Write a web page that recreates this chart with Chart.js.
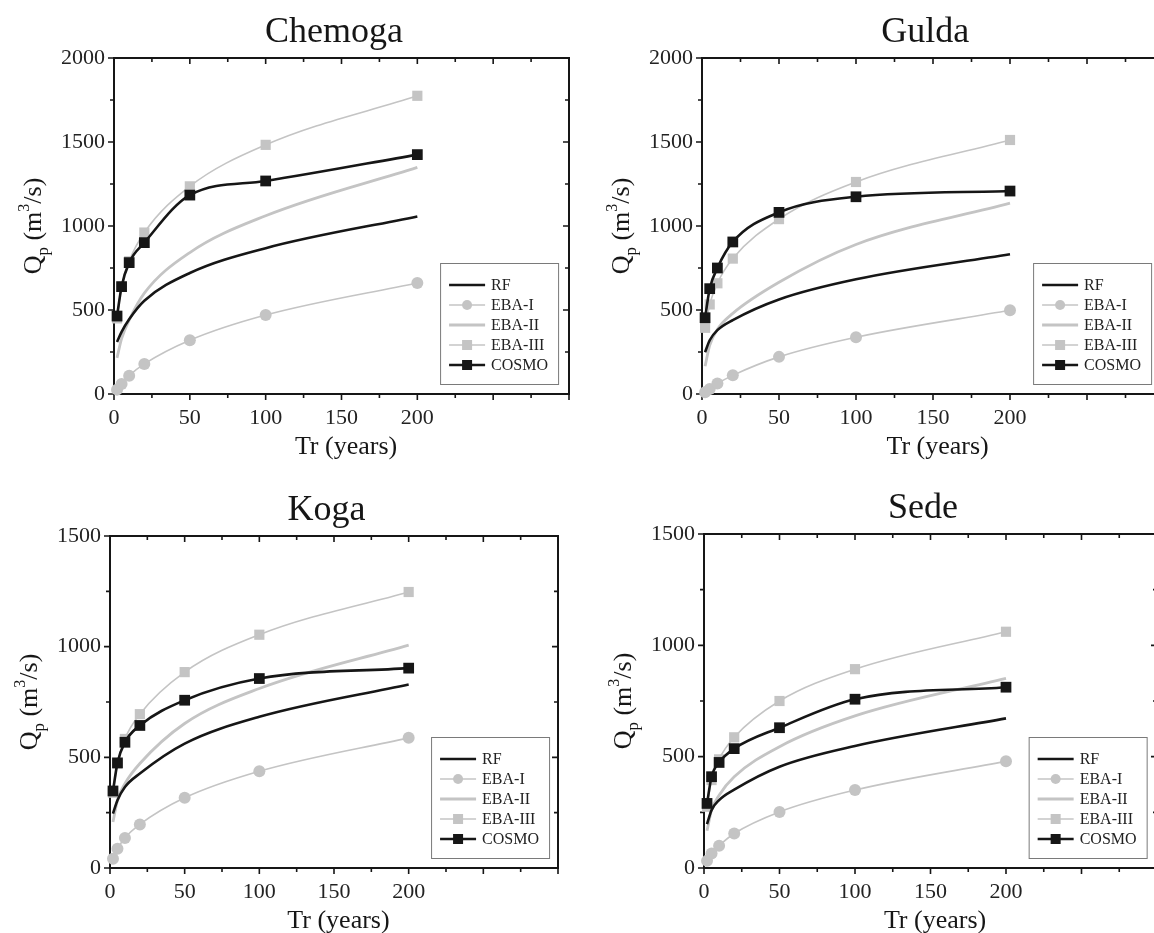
<!DOCTYPE html>
<html>
<head>
<meta charset="utf-8">
<script src="https://cdn.jsdelivr.net/npm/chart.js@4.4.0/dist/chart.umd.min.js"></script>
<style>
  html, body { margin: 0; padding: 0; background: #fff; }
  #lienzo { position: relative; width: 1154px; height: 933px; overflow: hidden; background: #fff; }
  canvas { position: absolute; }
</style>
</head>
<body>
<div id="lienzo">
  <canvas id="chemoga" width="577" height="466" style="left:0;top:0"></canvas>
  <canvas id="gulda" width="610" height="466" style="left:577px;top:0"></canvas>
  <canvas id="koga" width="577" height="467" style="left:0;top:466px"></canvas>
  <canvas id="sede" width="590" height="467" style="left:577px;top:466px"></canvas>
</div>
<script>
// Return periods (years)
const returnPeriods = [2, 5, 10, 20, 50, 100, 200];
const seriesNames = ['RF', 'EBA-I', 'EBA-II', 'EBA-III', 'COSMO'];
const xTicks = [0, 50, 100, 150, 200];

// Qp (m3/s)
const chemogaRF     = [310, 370, 445, 555, 720, 868, 1057];
const chemogaEBA1   = [26, 60, 109, 179, 320, 470, 661];
const chemogaEBA2   = [215, 330, 440, 600, 842, 1061, 1349];
const chemogaEBA3   = [450, 640, 790, 961, 1236, 1483, 1775];
const chemogaCOSMO  = [464, 639, 782, 901, 1184, 1268, 1425];

const guldaRF       = [249, 320, 380, 440, 563, 683, 832];
const guldaEBA1     = [10, 30, 62, 111, 221, 338, 498];
const guldaEBA2     = [165, 290, 385, 480, 665, 890, 1136];
const guldaEBA3     = [394, 533, 659, 806, 1041, 1262, 1512];
const guldaCOSMO    = [454, 627, 750, 905, 1081, 1174, 1208];

const kogaRF        = [246, 306, 366, 427, 562, 683, 829];
const kogaEBA1      = [42, 87, 136, 197, 317, 437, 588];
const kogaEBA2      = [208, 306, 381, 472, 653, 811, 1007];
const kogaEBA3      = [340, 470, 583, 695, 885, 1054, 1247];
const kogaCOSMO     = [348, 475, 568, 644, 758, 856, 903];

const sedeRF        = [197, 260, 305, 352, 455, 548, 672];
const sedeEBA1      = [32, 65, 100, 155, 252, 350, 479];
const sedeEBA2      = [167, 260, 327, 410, 545, 683, 852];
const sedeEBA3      = [275, 395, 488, 587, 750, 893, 1061];
const sedeCOSMO     = [290, 410, 474, 536, 630, 758, 812];

const FUENTE = "'Liberation Serif', 'Times New Roman', serif";
const NEGRO = '#161616';
const GRIS = '#c4c4c4';

const estilos = [
  { color: NEGRO, width: 2.6, point: false, radius: 0, order: 2 },
  { color: GRIS, width: 1.6, point: 'circle', radius: 6, order: 5 },
  { color: GRIS, width: 2.8, point: false, radius: 0, order: 4 },
  { color: GRIS, width: 1.6, point: 'rect', radius: 7.2, order: 3 },
  { color: NEGRO, width: 2.6, point: 'rect', radius: 7.6, order: 1 }
];

// frame, ticks, titles and boxed legend
const marcoPlugin = {
  id: 'marco',
  beforeDatasetsDraw(chart) {
    const { ctx, chartArea: a, scales: { x, y } } = chart;
    ctx.save();
    ctx.strokeStyle = NEGRO;
    ctx.lineWidth = 2;
    ctx.strokeRect(a.left, a.top, a.right - a.left, a.bottom - a.top);
    ctx.lineWidth = 1.6;
    ctx.beginPath();
    for (let v = 0; v <= x.max; v += 25) {
      const px = x.getPixelForValue(v);
      const len = v % 50 === 0 ? 6 : 4;
      ctx.moveTo(px, a.bottom); ctx.lineTo(px, a.bottom + len);
      ctx.moveTo(px, a.top); ctx.lineTo(px, a.top + len);
    }
    for (let v = 0; v <= y.max; v += 250) {
      const py = y.getPixelForValue(v);
      const len = v % 500 === 0 ? 6 : 4;
      ctx.moveTo(a.left, py); ctx.lineTo(a.left - len, py);
      ctx.moveTo(a.right, py); ctx.lineTo(a.right - len, py);
    }
    ctx.stroke();
    ctx.restore();
  },
  afterDraw(chart, args, opts) {
    const { ctx, chartArea: a, scales: { x } } = chart;
    ctx.save();
    ctx.fillStyle = NEGRO;
    ctx.textAlign = 'center';
    ctx.textBaseline = 'alphabetic';

    ctx.font = '36px ' + FUENTE;
    ctx.fillText(opts.titulo, x.getPixelForValue(145), a.top - 16);

    ctx.font = '26px ' + FUENTE;
    ctx.fillText('Tr (years)', x.getPixelForValue(153), a.bottom + 60);

    // y title with subscript and superscript
    const partes = [['Q', 26, 0], ['p', 17, 7], [' (m', 26, 0], ['3', 16, -12], ['/s)', 26, 0]];
    ctx.translate(a.left - 73, (a.top + a.bottom) / 2);
    ctx.rotate(-Math.PI / 2);
    let total = 0;
    partes.forEach(p => { ctx.font = p[1] + 'px ' + FUENTE; total += ctx.measureText(p[0]).width; });
    let cx = -total / 2;
    ctx.textAlign = 'left';
    partes.forEach(p => {
      ctx.font = p[1] + 'px ' + FUENTE;
      ctx.fillText(p[0], cx, p[2]);
      cx += ctx.measureText(p[0]).width;
    });
    ctx.restore();

    // legend
    const bw = 118, bh = 121;
    const bx = x.getPixelForValue(opts.leyendaX), by = a.bottom - 10 - bh;
    ctx.save();
    ctx.fillStyle = '#fff';
    ctx.fillRect(bx, by, bw, bh);
    ctx.strokeStyle = '#7a7a7a';
    ctx.lineWidth = 1;
    ctx.strokeRect(bx + 0.5, by + 0.5, bw, bh);
    ctx.font = '16px ' + FUENTE;
    ctx.textAlign = 'left';
    ctx.textBaseline = 'middle';
    chart.data.datasets.forEach((ds, i) => {
      const cy = by + 22 + i * 20;
      const e = estilos[i];
      ctx.strokeStyle = e.color;
      ctx.lineWidth = e.width;
      ctx.beginPath();
      ctx.moveTo(bx + 9, cy); ctx.lineTo(bx + 45, cy);
      ctx.stroke();
      ctx.fillStyle = e.color;
      if (e.point === 'circle') {
        ctx.beginPath(); ctx.arc(bx + 27, cy, 5, 0, Math.PI * 2); ctx.fill();
      } else if (e.point === 'rect') {
        ctx.fillRect(bx + 22, cy - 5, 10, 10);
      }
      ctx.fillStyle = '#222';
      ctx.fillText(ds.label, bx + 51, cy + 1);
    });
    ctx.restore();
  }
};

function crearPanel(id, titulo, yMax, valores, area) {
  const canvas = document.getElementById(id);
  const W = canvas.width, H = canvas.height;
  const datasets = valores.map((serie, i) => {
    const e = estilos[i];
    return {
      label: seriesNames[i],
      data: returnPeriods.map((t, k) => ({ x: t, y: serie[k] })),
      borderColor: e.color,
      backgroundColor: e.color,
      borderWidth: e.width,
      pointStyle: e.point || 'circle',
      pointRadius: e.radius,
      pointBorderWidth: 0,
      pointBackgroundColor: e.color,
      cubicInterpolationMode: 'monotone',
      order: e.order,
      clip: false
    };
  });

  new Chart(canvas, {
    type: 'line',
    data: { datasets },
    options: {
      responsive: false,
      animation: false,
      events: [],
      layout: {
        padding: {
          left: area.left - 70,
          top: area.top,
          right: W - area.right,
          bottom: H - area.bottom - 40
        }
      },
      plugins: {
        legend: { display: false },
        tooltip: { enabled: false },
        marco: { titulo, leyendaX: 215 }
      },
      scales: {
        x: {
          type: 'linear',
          min: 0,
          max: 300,
          afterFit: s => { s.height = 40; },
          afterBuildTicks: s => { s.ticks = xTicks.map(v => ({ value: v })); },
          ticks: { font: { family: FUENTE, size: 22 }, color: '#222', padding: 11, maxRotation: 0,
                   callback: v => String(v) },
          grid: { display: false, drawTicks: false },
          border: { display: false }
        },
        y: {
          min: 0,
          max: yMax,
          afterFit: s => { s.width = 70; },
          ticks: { stepSize: 500, font: { family: FUENTE, size: 22 }, color: '#222', padding: 9,
                   callback: v => String(v) },
          grid: { display: false, drawTicks: false },
          border: { display: false }
        }
      }
    },
    plugins: [marcoPlugin]
  });
}

crearPanel('chemoga', 'Chemoga', 2000,
  [chemogaRF, chemogaEBA1, chemogaEBA2, chemogaEBA3, chemogaCOSMO],
  { left: 114, top: 58, right: 569, bottom: 394 });
crearPanel('gulda', 'Gulda', 2000,
  [guldaRF, guldaEBA1, guldaEBA2, guldaEBA3, guldaCOSMO],
  { left: 125, top: 58, right: 587, bottom: 394 });
crearPanel('koga', 'Koga', 1500,
  [kogaRF, kogaEBA1, kogaEBA2, kogaEBA3, kogaCOSMO],
  { left: 110, top: 70, right: 558, bottom: 402 });
crearPanel('sede', 'Sede', 1500,
  [sedeRF, sedeEBA1, sedeEBA2, sedeEBA3, sedeCOSMO],
  { left: 127, top: 68, right: 580, bottom: 402 });
</script>
</body>
</html>
